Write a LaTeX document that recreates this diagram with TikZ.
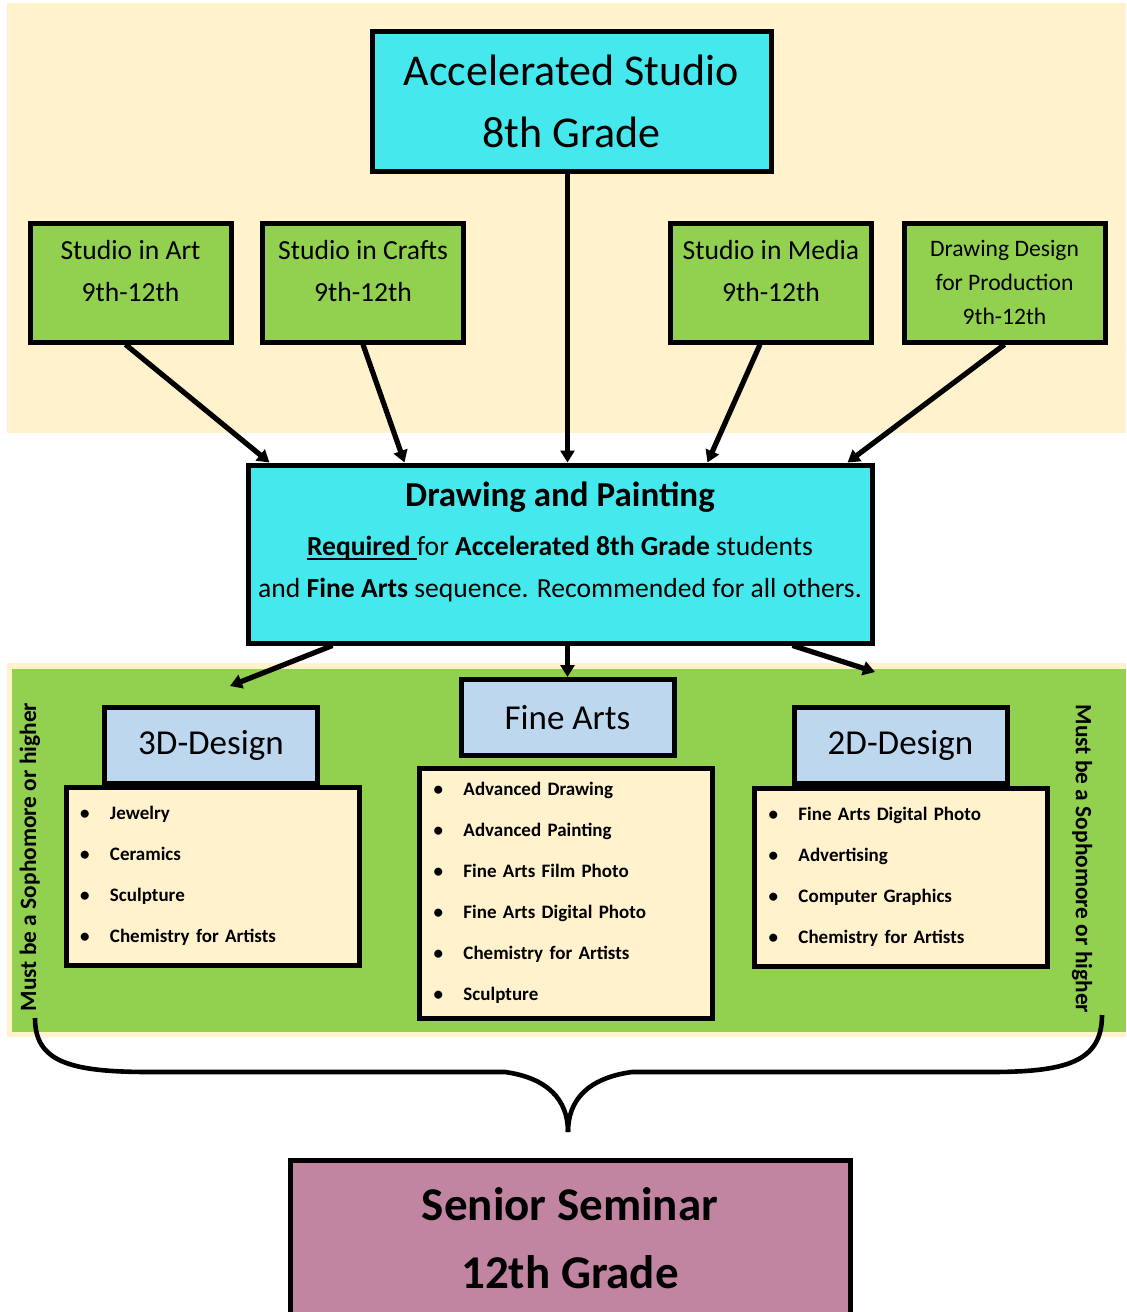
\documentclass[tikz,border=0pt]{standalone}
\usepackage{fontspec}
\setmainfont{Carlito}
\usetikzlibrary{arrows.meta, calc}
\definecolor{cream}{RGB}{255,242,204}
\definecolor{leaf}{RGB}{146,208,80}
\definecolor{aqua}{RGB}{69,233,237}
\definecolor{sky}{RGB}{189,215,238}
\definecolor{mauve}{RGB}{194,133,161}
\newcommand\thickul[1]{\setbox0\hbox{#1}\rlap{\rule[-2.4pt]{\wd0}{1pt}}\box0}

\begin{document}
\begin{tikzpicture}[x=0.5pt, y=-0.5pt,
  box/.style={draw, line width=2.5pt, inner sep=0pt, align=center},
  studio/.style={box, fill=leaf, minimum width=100.5pt, minimum height=59.5pt},
  studiotext/.style={align=center, font=\fontsize{13.8}{21}\selectfont},
  header/.style={box, fill=sky, minimum width=106.5pt, minimum height=38pt, font=\fontsize{17.5}{21}\selectfont},
  course/.style={box, fill=cream, minimum width=146.5pt, minimum height=89pt, text width=132.5pt, inner xsep=7pt, align=left, font=\bfseries\fontsize{9.5}{20.5}\selectfont},
  must/.style={font=\bfseries\fontsize{11.7}{13}\selectfont},
  link/.style={line width=2.6pt, -{Triangle[length=6pt, width=7pt]}}]
\newcommand\bul[1]{\makebox[15pt][l]{\textbullet}#1}
\useasboundingbox (0,0) rectangle (1126,1312);
\fill[cream] (7,3) rectangle (1126,433);
\fill[cream] (7,663) rectangle (1126,1037);
\fill[leaf] (12,669) rectangle (1126,1032);

\node[box, fill=aqua, minimum width=199.5pt, minimum height=70pt, font=\fontsize{22}{31}\selectfont] (accel) at (571.5,101) {Accelerated Studio\\8th Grade};

\node[studio] (art) at (130.5,282.5) {};
\node[studiotext] (arttext) at ($(art)+(0,-11)$) {Studio in Art\\9th-12th};
\node[studio] (crafts) at (363,282.5) {};
\node[studiotext] (craftstext) at ($(crafts)+(0,-11)$) {Studio in Crafts\\9th-12th};
\node[studio] (media) at (771,282.5) {};
\node[studiotext] (mediatext) at ($(media)+(0,-11)$) {Studio in Media\\9th-12th};
\node[studio, font=\fontsize{11.8}{17}\selectfont] (ddp) at (1004.5,282.5) {Drawing Design\\for Production\\9th-12th};

\node[box, fill=aqua, minimum width=312pt, minimum height=89pt] (dp) at (560,554) {};
\node[align=center, font=\fontsize{13.8}{21}\selectfont] (dptext) at ($(dp)+(0,-12)$)
  {{\fontsize{17.5}{21}\selectfont\bfseries Drawing and Painting}\\[3.5pt]
   \thickul{\textbf{Required}\ }for \textbf{Accelerated 8th Grade} students\\
   and \textbf{Fine Arts} sequence. Recommended for all others.};

\draw[link] ($(art.south)+(-5,0)$) -- ($(dp.north west)+(24,0)$);
\draw[link] (crafts.south) -- ($(dp.north west)+(159,0)$);
\draw[link] ($(accel.south)+(-4,0)$) -- ($(accel.south |- dp.north)+(-4,0)$);
\draw[link] ($(media.south)+(-11,0)$) -- ($(dp.north west)+(462,0)$);
\draw[link] (ddp.south) -- ($(dp.north west)+(602,0)$);

\node[course] (threelist) at (212.5,876)
  {\bul{Jewelry}\\\bul{Ceramics}\\\bul{Sculpture}\\\bul{Chemistry for Artists}};
\node[header] (three) at (211,745) {3D-Design};
\node[course, minimum height=125pt] (falist) at (566,893)
  {\bul{Advanced Drawing}\\\bul{Advanced Painting}\\\bul{Fine Arts Film Photo}\\\bul{Fine Arts Digital Photo}\\\bul{Chemistry for Artists}\\\bul{Sculpture}};
\node[header] (fa) at (567.5,717.5) {Fine Arts};
\node[course] (twolist) at (901,877)
  {\bul{Fine Arts Digital Photo}\\\bul{Advertising}\\\bul{Computer Graphics}\\\bul{Chemistry for Artists}};
\node[header] (two) at (900.5,745) {2D-Design};

\coordinate (threetop) at (230,686);
\coordinate (twotop) at (875,672);
\draw[link] ($(dp.south west)+(87,0)$) -- (threetop);
\draw[link] (dp.south -| fa.north) -- (fa.north);
\draw[link] ($(dp.south west)+(547,0)$) -- (twotop);

\node[must, rotate=90] (mustleft) at (30,857) {Must be a Sophomore or higher};
\node[must, rotate=-90] (mustright) at (1082,859) {Must be a Sophomore or higher};

\draw[line width=2.3pt] (35,1018) .. controls (35,1062) and (70,1072) .. (150,1072) -- (505,1072)
  .. controls (548,1078) and (568,1100) .. (568,1132);
\draw[line width=2.3pt] (1102,1015) .. controls (1102,1062) and (1066,1072) .. (990,1072) -- (632,1072)
  .. controls (588,1078) and (568,1100) .. (568,1132);

\node[box, fill=mauve, minimum width=280pt, minimum height=78pt, font=\bfseries\fontsize{23.5}{34}\selectfont] (senior) at (570,1238) {Senior Seminar\\12th Grade};
\end{tikzpicture}
\end{document}
